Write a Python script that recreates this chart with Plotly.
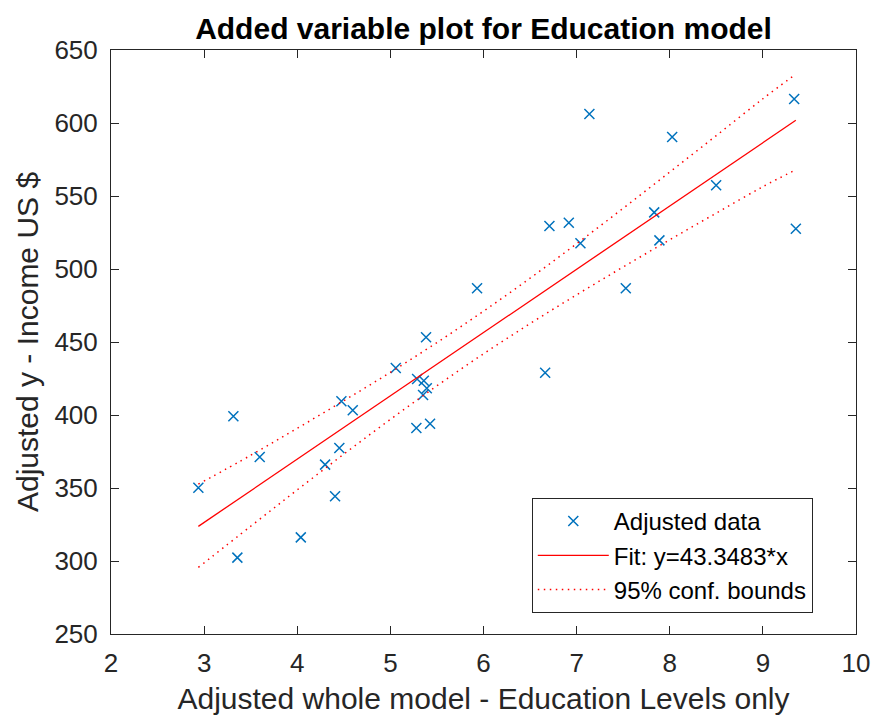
import plotly.graph_objects as go

# Adjusted data (added variable plot for the Education term)
adj_x = [2.938, 3.314, 3.357, 3.597, 4.038, 4.299, 4.406, 4.452, 4.474, 4.596,
         5.058, 5.279, 5.287, 5.359, 5.391, 5.351, 5.426, 5.383, 5.931, 6.662,
         6.708, 6.916, 7.041, 7.137, 7.528, 7.833, 7.889, 8.026, 8.498, 9.336,
         9.354]
adj_y = [350.2, 399.1, 302.3, 371.2, 316.2, 366.0, 344.3, 377.4, 409.4, 403.2,
         432.2, 391.1, 424.7, 423.5, 418.3, 413.7, 394.0, 453.2, 486.8, 429.0,
         529.5, 531.7, 517.6, 606.2, 486.8, 538.8, 519.6, 590.4, 557.3, 616.4,
         527.6]

# Fitted slope reported in the legend
slope = 43.3483

# 95% confidence bounds of the fitted line
bound_x = [2.938, 3.5, 4.0, 4.5, 5.0, 5.5, 6.0, 6.5, 7.0, 7.5, 8.0, 8.5, 9.0, 9.354]
bound_upper = [352.6, 372.4, 390.9, 409.8, 429.2, 449.6, 471.1, 493.7, 517.3,
               541.6, 566.4, 591.4, 616.6, 633.5]
bound_lower = [295.6, 323.8, 348.7, 373.2, 397.0, 420.0, 441.9, 462.6, 482.3,
               501.4, 520.0, 538.3, 556.4, 568.0]

x_ticks = [2, 3, 4, 5, 6, 7, 8, 9, 10]
y_ticks = [250, 300, 350, 400, 450, 500, 550, 600, 650]

# The added-variable fit passes through the centroid of the adjusted data
x_mean = sum(adj_x) / len(adj_x)
y_mean = sum(adj_y) / len(adj_y)
intercept = y_mean - slope * x_mean
fit_x = [min(adj_x), max(adj_x)]
fit_y = [intercept + slope * v for v in fit_x]

AX = "#262626"
FONT = "Liberation Sans, Arial, Helvetica, sans-serif"

fig = go.Figure()
fig.add_trace(go.Scatter(
    x=adj_x, y=adj_y, mode="markers", name="Adjusted data",
    legendgroup="a",
    marker=dict(symbol="x-thin", size=10, color="#0072BD",
                line=dict(width=1.5, color="#0072BD")),
))
fig.add_trace(go.Scatter(
    x=fit_x, y=fit_y, mode="lines", name="Fit: y=43.3483*x",
    legendgroup="b",
    line=dict(color="#FF0000", width=1.3),
))
fig.add_trace(go.Scatter(
    x=bound_x, y=bound_upper, mode="lines", name="95% conf. bounds",
    legendgroup="c",
    line=dict(color="#FF0000", width=1.5, dash="1.5px,4.5px", shape="spline"),
))
fig.add_trace(go.Scatter(
    x=bound_x, y=bound_lower, mode="lines", name="95% conf. bounds",
    legendgroup="c", showlegend=False,
    line=dict(color="#FF0000", width=1.5, dash="1.5px,4.5px", shape="spline"),
))

axis_common = dict(
    showgrid=False, zeroline=False, showline=True, linecolor=AX, linewidth=1,
    mirror="ticks", ticks="inside", ticklen=8, tickcolor=AX, tickwidth=1,
    tickfont=dict(family=FONT, size=26, color=AX), automargin=False,
)

fig.update_layout(
    width=873, height=718,
    margin=dict(l=111, r=17, t=50, b=84),
    paper_bgcolor="white", plot_bgcolor="white",
    font=dict(family=FONT, color=AX),
    title=dict(
        text="<b>Added variable plot for Education model</b>",
        x=0.5, xref="paper", xanchor="center",
        y=1 - 28 / 718, yref="container", yanchor="middle",
        font=dict(family=FONT, size=30, color="black"),
    ),
    xaxis=dict(
        range=[2, 10], tickvals=x_ticks, ticklabelstandoff=6, **axis_common,
        title=dict(text="Adjusted whole model - Education Levels only",
                   font=dict(family=FONT, size=30, color=AX), standoff=10),
    ),
    yaxis=dict(
        range=[250, 650], tickvals=y_ticks, ticklabelstandoff=7, **axis_common,
        title=dict(text="Adjusted y - Income US $",
                   font=dict(family=FONT, size=30, color=AX), standoff=6),
    ),
    legend=dict(
        x=0.942, y=0.036, xanchor="right", yanchor="bottom",
        bgcolor="white", bordercolor=AX, borderwidth=1,
        font=dict(family=FONT, size=24, color="black"),
        itemwidth=71, tracegroupgap=0,
    ),
    showlegend=True,
)

fig.write_html("out.html")
